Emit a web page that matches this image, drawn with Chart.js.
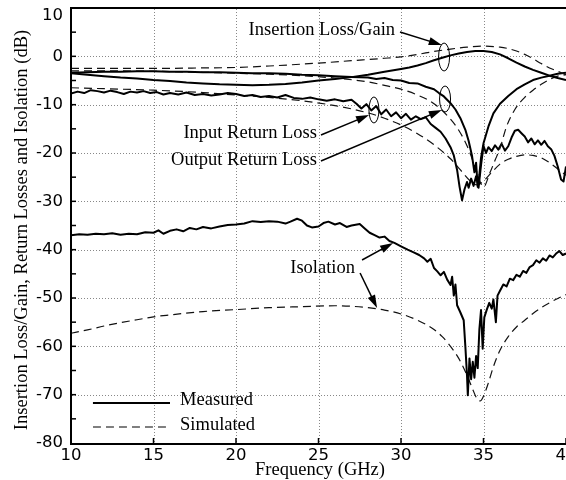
<!DOCTYPE html>
<html>
<head>
<meta charset="utf-8">
<script src="https://cdn.jsdelivr.net/npm/chart.js@4/dist/chart.umd.min.js"></script>
<style>
  body { margin: 0; background: #fff; }
  canvas { display: block; }
</style>
</head>
<body>
<canvas id="myChart" width="566" height="480"></canvas>
<script>
// Axis ticks
const xTicks = [10, 15, 20, 25, 30, 35, 40];
const yTicks = [10, 0, -10, -20, -30, -40, -50, -60, -70, -80];

// Insertion loss / gain
const ilMeasF = [10,11,12,13,14,15,16,17,18,19,20,21,22,23,24,25,26,27,28,29,30,30.5,31,31.5,32,32.5,33,33.5,34,34.5,35,35.5,36,36.5,37,37.5,38,38.5,39,39.5,40];
const ilMeasDb = [-3.5,-3.8,-4.1,-4.4,-4.6,-4.9,-5.1,-5.4,-5.6,-5.8,-5.9,-6.0,-5.9,-5.7,-5.4,-5.0,-4.7,-4.3,-3.8,-3.2,-2.6,-2.3,-1.9,-1.4,-0.8,-0.3,0.2,0.6,0.9,1.1,1.1,0.9,0.4,-0.4,-1.3,-2.1,-2.8,-3.4,-4.0,-4.5,-4.9];
const ilSimF = [10,12,15,18,20,22,25,27,29,30,31,32,33,34,35,36,36.5,37,37.5,38,38.5,39,39.5,40];
const ilSimDb = [-2.5,-2.5,-2.5,-2.4,-2.3,-2.0,-1.4,-0.9,-0.4,-0.1,0.4,1.0,1.5,1.9,2.1,1.9,1.6,1.1,0.4,-0.5,-1.5,-2.4,-3.1,-3.8];

// Output return loss
const orlMeasF = [10,11,12,13,14,15,16,17,18,19,20,21,22,23,24,25,26,27,28,28.5,29,29.5,30,30.5,31,31.5,32,32.3,32.6,33,33.3,33.6,33.9,34.1,34.3,34.45,34.55,34.65,34.75,34.85,35,35.3,35.6,36,36.5,37,37.5,38,38.5,39,39.5,40];
const orlMeasDb = [-3.4,-3.3,-3.2,-3.2,-3.1,-3.1,-3.2,-3.2,-3.3,-3.3,-3.4,-3.5,-3.5,-3.6,-3.8,-3.9,-4.1,-4.3,-4.4,-4.7,-4.5,-4.9,-5.0,-5.5,-5.6,-6.3,-6.8,-7.6,-8.3,-9.7,-11,-12.8,-15.2,-17.5,-20.5,-24,-22,-27,-24.5,-21,-18,-14.5,-11.8,-9.8,-8.2,-6.8,-5.8,-4.9,-4.4,-4.0,-3.6,-3.4];
const orlSimF = [10,12,15,18,20,22,24,26,28,29,30,31,32,33,33.5,34,34.5,34.8,35,35.4,35.7,36,36.4,36.9,37.5,38,38.5,39,39.5,40];
const orlSimDb = [-3.0,-3.0,-3.1,-3.3,-3.5,-3.7,-4.0,-4.5,-5.3,-6.0,-6.8,-8.0,-9.8,-13,-15.3,-18.5,-23,-26,-27,-24,-21.5,-19,-14.5,-11,-8.5,-7,-5.8,-4.8,-4.1,-3.8];

// Input return loss
const irlMeasF = [10,10.4,10.8,11.2,11.6,12,12.4,12.8,13.2,13.6,14,14.4,14.8,15.2,15.6,16,16.5,17,17.5,18,18.5,19,19.5,20,20.5,21,21.5,22,22.5,23,23.5,24,24.5,25,25.5,26,26.5,27,27.3,27.6,27.9,28.2,28.5,28.8,29.1,29.4,29.7,30,30.3,30.6,30.9,31.2,31.5,31.8,32.1,32.4,32.7,33,33.2,33.4,33.55,33.7,33.85,34,34.1,34.25,34.4,34.55,34.7,34.85,35,35.15,35.3,35.5,35.7,35.9,36.1,36.3,36.5,36.7,36.9,37.1,37.3,37.5,37.7,37.9,38.1,38.3,38.5,38.7,38.9,39.1,39.3,39.5,39.7,39.85,40];
const irlMeasDb = [-7.7,-7.3,-7.6,-7.0,-7.2,-7.5,-7.1,-7.4,-7.8,-7.3,-7.5,-7.2,-7.6,-7.4,-7.9,-7.6,-7.9,-7.5,-8.0,-7.8,-8.1,-7.9,-7.6,-7.8,-8.2,-8.0,-8.4,-8.2,-8.5,-8.0,-8.6,-8.8,-8.5,-8.9,-9.2,-8.9,-9.3,-9.0,-9.8,-10.8,-9.9,-11.2,-10.3,-12.0,-11.0,-12.4,-11.6,-12.8,-11.9,-13.1,-12.4,-13.0,-12.6,-14.0,-14.8,-15.6,-17.0,-18.8,-20.5,-23.5,-27,-29.8,-27.5,-26,-27.2,-25.3,-26.8,-24.8,-27.2,-22.5,-18.5,-20,-18.8,-19.6,-18.4,-19.3,-18.1,-19.5,-18.6,-16.8,-15.4,-15.2,-15.9,-16.6,-17.8,-17.0,-18.2,-17.4,-18.3,-17.5,-18.6,-19.2,-20.6,-22.8,-25.5,-25.9,-22.8];
const irlSimF = [10,12,15,18,20,22,24,26,28,29,30,31,32,33,33.6,34.2,34.6,35,35.5,36,36.5,37,37.5,38,38.5,39,39.5,40];
const irlSimDb = [-6.5,-6.7,-7.0,-7.5,-8.0,-8.5,-9.2,-10.2,-11.7,-12.8,-14.2,-16,-18.3,-21.2,-23.5,-25.8,-26.6,-25.8,-24,-22.3,-21.3,-20.7,-20.4,-20.5,-21,-22,-23.3,-24.6];

// Isolation
const isoMeasF = [10,10.5,11,11.5,12,12.5,13,13.5,14,14.5,15,15.3,15.6,16,16.4,16.8,17.2,17.6,18,18.5,19,19.5,20,20.5,21,21.5,22,22.5,23,23.3,23.7,24,24.3,24.6,25,25.3,25.6,26,26.3,26.7,27,27.5,27.8,28.1,28.4,28.7,29,29.3,29.6,30,30.4,30.8,31.1,31.4,31.6,31.8,32,32.2,32.4,32.6,32.8,33,33.1,33.2,33.3,33.4,33.6,33.8,33.9,34,34.05,34.15,34.25,34.35,34.45,34.55,34.65,34.75,34.85,34.95,35.05,35.2,35.35,35.5,35.6,35.75,35.85,36,36.2,36.4,36.6,36.8,37,37.2,37.4,37.6,37.8,38,38.2,38.4,38.6,38.8,39,39.2,39.4,39.6,39.8,40];
const isoMeasDb = [-37,-36.8,-36.9,-36.7,-36.8,-36.6,-36.9,-36.7,-36.8,-36.4,-36.5,-36.0,-36.7,-36.1,-35.8,-36.2,-35.5,-35.8,-35.3,-35.6,-35.2,-34.9,-34.8,-34.6,-34.1,-34.3,-34.1,-34.2,-34.6,-34.2,-33.6,-34.0,-35.0,-35.4,-35.2,-34.5,-34.2,-34.8,-34.5,-35.3,-35.0,-34.7,-35.6,-36.5,-37.0,-37.5,-37.3,-38.2,-38.6,-39.3,-40.0,-40.6,-41.1,-41.8,-42.5,-41.9,-43.8,-44.5,-45.3,-44.6,-46.2,-47.3,-45.6,-49.5,-47.2,-51.5,-53.0,-54.6,-60,-66,-70.1,-62.5,-66.8,-63.2,-66.5,-62.0,-64.5,-56.5,-52.5,-60.5,-54.0,-52.4,-51.0,-52.2,-50.3,-55.0,-49.5,-48.5,-47.2,-47.6,-46.0,-46.3,-45.2,-45.6,-44.4,-44.8,-43.6,-43.2,-42.2,-42.7,-41.8,-42.3,-41.2,-41.6,-40.8,-40.3,-41.1,-40.8];
const isoSimF = [10,11,12,13,14,15,16,18,20,22,24,26,28,29,30,31,32,32.5,33,33.5,34,34.3,34.6,34.8,35,35.3,35.6,36,36.5,37,37.5,38,38.5,39,39.5,40];
const isoSimDb = [-57.3,-56.6,-55.8,-55.1,-54.5,-53.9,-53.5,-52.8,-52.4,-52.0,-51.8,-51.6,-52.0,-52.5,-53.3,-54.6,-56.5,-58,-60,-62.5,-66,-68.5,-70.8,-71.3,-70.3,-67.5,-64.2,-60.8,-58,-56,-54.6,-53.2,-52,-51,-50.1,-49.3];

const serif = '"Liberation Serif", "Times New Roman", serif';
const sans = '"DejaVu Sans", sans-serif';

function pts(fs, vs) { return fs.map((f, i) => ({ x: f, y: vs[i] })); }

function measured(fs, vs) {
    return { data: pts(fs, vs), borderColor: '#000', borderWidth: 2, pointRadius: 0, tension: 0, borderJoinStyle: 'round' };
}
function simulated(fs, vs) {
    return { data: pts(fs, vs), borderColor: '#111', borderWidth: 1.2, borderDash: [8, 5], pointRadius: 0, cubicInterpolationMode: 'monotone' };
}

// Annotations, in data units (GHz, dB)
const labels = [
    { text: 'Insertion Loss/Gain', f: 29.64, v: 5.45 },
    { text: 'Input Return Loss', f: 24.91, v: -15.86 },
    { text: 'Output Return Loss', f: 24.91, v: -21.45 },
    { text: 'Isolation', f: 27.21, v: -43.8 }
];
const arrows = [
    [29.94, 5.03, 32.47, 2.34],
    [25.15, -16.28, 28.06, -12.14],
    [25.15, -21.66, 32.47, -11.1],
    [27.64, -42.14, 29.52, -38.62],
    [27.52, -44.83, 28.55, -52.07]
];
const ellipses = [
    [32.61, -0.14, 5.5, 14],
    [28.36, -11.1, 5, 13],
    [32.67, -8.83, 5.5, 13]
];

// draws grid, frame, inner ticks, titles, annotations and legend
const extras = {
    id: 'extras',
    beforeDatasetsDraw(chart) {
        const c = chart.ctx, xs = chart.scales.x, ys = chart.scales.y, a = chart.chartArea;
        c.save();
        c.fillStyle = '#888';
        // dotted grid as tiny squares so it stays crisp
        xTicks.filter(f => f > 10 && f < 40).forEach(f => {
            const x = Math.round(xs.getPixelForValue(f));
            for (let y = Math.round(a.top) + 1; y < a.bottom; y += 3) c.fillRect(x, y, 1, 1);
        });
        yTicks.filter(v => v > -80 && v < 10).forEach(v => {
            const y = Math.round(ys.getPixelForValue(v));
            for (let x = Math.round(a.left) + 1; x < a.right; x += 3) c.fillRect(x, y, 1, 1);
        });
        c.restore();
    },
    afterDatasetsDraw(chart) {
        const c = chart.ctx, xs = chart.scales.x, ys = chart.scales.y, a = chart.chartArea;
        const X = f => xs.getPixelForValue(f), Y = v => ys.getPixelForValue(v);
        c.save();
        c.strokeStyle = '#000';
        c.fillStyle = '#000';
        // frame lines
        c.lineWidth = 2;
        c.beginPath(); c.moveTo(a.left, a.top); c.lineTo(a.right, a.top); c.stroke();
        c.beginPath(); c.moveTo(a.left, a.top - 1); c.lineTo(a.left, a.bottom + 1); c.lineTo(a.right, a.bottom + 1); c.stroke();
        // inner ticks
        c.lineWidth = 1.5;
        for (let v = -75; v < 10; v += 5) {
            c.beginPath(); c.moveTo(a.left, Y(v)); c.lineTo(a.left + 5, Y(v)); c.stroke();
        }
        xTicks.forEach(f => {
            c.beginPath(); c.moveTo(X(f), a.bottom); c.lineTo(X(f), a.bottom - 5); c.stroke();
        });
        // top y label sits a little lower than its gridline
        c.font = '16.5px ' + sans;
        c.textAlign = 'right';
        c.textBaseline = 'middle';
        c.fillText(String(yTicks[0]), a.left - 8, Y(yTicks[0]) + 8);
        // titles
        c.font = '18.5px ' + serif;
        c.textAlign = 'center';
        c.textBaseline = 'alphabetic';
        c.fillText('Frequency (GHz)', 320, 475);
        c.save();
        c.translate(27, 230);
        c.rotate(-Math.PI / 2);
        c.fillText('Insertion Loss/Gain, Return Losses and Isolation (dB)', 0, 0);
        c.restore();
        // labels
        c.textAlign = 'right';
        c.textBaseline = 'middle';
        labels.forEach(l => c.fillText(l.text, X(l.f), Y(l.v)));
        // arrows
        arrows.forEach(([f0, v0, f1, v1]) => {
            const x0 = X(f0), y0 = Y(v0), x1 = X(f1), y1 = Y(v1);
            const ang = Math.atan2(y1 - y0, x1 - x0);
            c.lineWidth = 1.5;
            c.beginPath(); c.moveTo(x0, y0); c.lineTo(x1 - 8 * Math.cos(ang), y1 - 8 * Math.sin(ang)); c.stroke();
            c.beginPath();
            c.moveTo(x1, y1);
            c.lineTo(x1 - 13 * Math.cos(ang) + 4 * Math.sin(ang), y1 - 13 * Math.sin(ang) - 4 * Math.cos(ang));
            c.lineTo(x1 - 13 * Math.cos(ang) - 4 * Math.sin(ang), y1 - 13 * Math.sin(ang) + 4 * Math.cos(ang));
            c.closePath(); c.fill();
        });
        // ellipses
        c.lineWidth = 1;
        ellipses.forEach(([f, v, rx, ry]) => {
            c.beginPath(); c.ellipse(X(f), Y(v), rx, ry, 0, 0, Math.PI * 2); c.stroke();
        });
        // legend
        c.lineWidth = 2;
        c.beginPath(); c.moveTo(X(11.33), Y(-71.72)); c.lineTo(X(16.0), Y(-71.72)); c.stroke();
        c.lineWidth = 1.2;
        c.setLineDash([8, 5]);
        c.beginPath(); c.moveTo(X(11.33), Y(-76.69)); c.lineTo(X(15.88), Y(-76.69)); c.stroke();
        c.setLineDash([]);
        c.textAlign = 'left';
        c.fillText('Measured', X(16.61), Y(-71.1));
        c.fillText('Simulated', X(16.61), Y(-76.28));
        c.restore();
    }
};

const ctx = document.getElementById('myChart').getContext('2d');

const myChart = new Chart(ctx, {
    type: 'line',
    data: {
        datasets: [
            measured(ilMeasF, ilMeasDb),
            simulated(ilSimF, ilSimDb),
            measured(orlMeasF, orlMeasDb),
            simulated(orlSimF, orlSimDb),
            measured(irlMeasF, irlMeasDb),
            simulated(irlSimF, irlSimDb),
            measured(isoMeasF, isoMeasDb),
            simulated(isoSimF, isoSimDb)
        ]
    },
    options: {
        responsive: false,
        animation: false,
        layout: { padding: { top: 8, right: 0, left: 0, bottom: 0 } },
        plugins: { legend: { display: false }, tooltip: { enabled: false } },
        scales: {
            x: {
                type: 'linear',
                min: 10,
                max: 40,
                afterBuildTicks: s => { s.ticks = xTicks.map(v => ({ value: v })); },
                afterFit: s => { s.height = 37; s.paddingLeft = 0; s.paddingRight = 0; },
                ticks: { font: { family: sans, size: 16.5 }, color: '#000', padding: 3, autoSkip: false, maxRotation: 0 },
                grid: { display: false, drawTicks: false },
                border: { display: false }
            },
            y: {
                min: -80,
                max: 10,
                afterBuildTicks: s => { s.ticks = yTicks.map(v => ({ value: v })); },
                afterFit: s => { s.width = 71; s.paddingTop = 0; s.paddingBottom = 0; },
                ticks: {
                    font: { family: sans, size: 16.5 }, color: '#000', padding: 8, autoSkip: false,
                    callback: v => (v === yTicks[0] ? '' : v)
                },
                grid: { display: false, drawTicks: false },
                border: { display: false }
            }
        }
    },
    plugins: [extras]
});
</script>
</body>
</html>
